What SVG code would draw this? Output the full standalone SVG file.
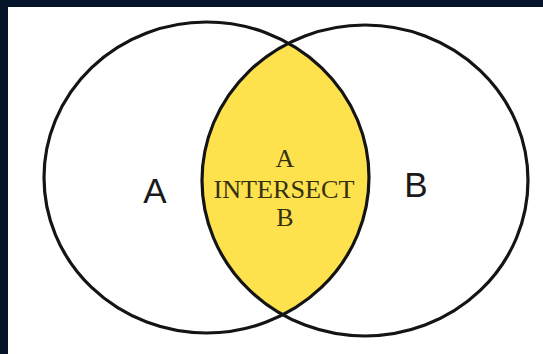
<svg xmlns="http://www.w3.org/2000/svg" width="543" height="354" viewBox="0 0 543 354">
<style>
.ring{fill:none;stroke:#141414;stroke-width:3.2}
.big{font-family:"Liberation Sans",Arial,sans-serif;font-size:35px;fill:#1a1a1a;text-anchor:middle}
.mid{font-family:"Liberation Serif","Times New Roman",serif;font-size:26px;fill:#35300f;text-anchor:middle}
</style>
<defs>
<clipPath id="clipA"><ellipse cx="206.5" cy="177.5" rx="162.5" ry="155.5"/></clipPath>
</defs>
<rect x="0" y="0" width="543" height="354" fill="#061429"/>
<rect x="8" y="7" width="535" height="347" fill="#ffffff"/>
<g id="intersection">
<ellipse cx="365" cy="180.5" rx="163" ry="155.5" fill="#fde24e" clip-path="url(#clipA)"/>
<text class="mid" x="285" y="167">A</text>
<text class="mid" x="284" y="198" textLength="141" lengthAdjust="spacingAndGlyphs">INTERSECT</text>
<text class="mid" x="285" y="226">B</text>
</g>
<g id="setA">
<ellipse class="ring" cx="206.5" cy="177.5" rx="162.5" ry="155.5"/>
<text class="big" x="155" y="203">A</text>
</g>
<g id="setB">
<ellipse class="ring" cx="365" cy="180.5" rx="163" ry="155.5"/>
<text class="big" x="416" y="197">B</text>
</g>
<g id="connectors"></g>
</svg>
